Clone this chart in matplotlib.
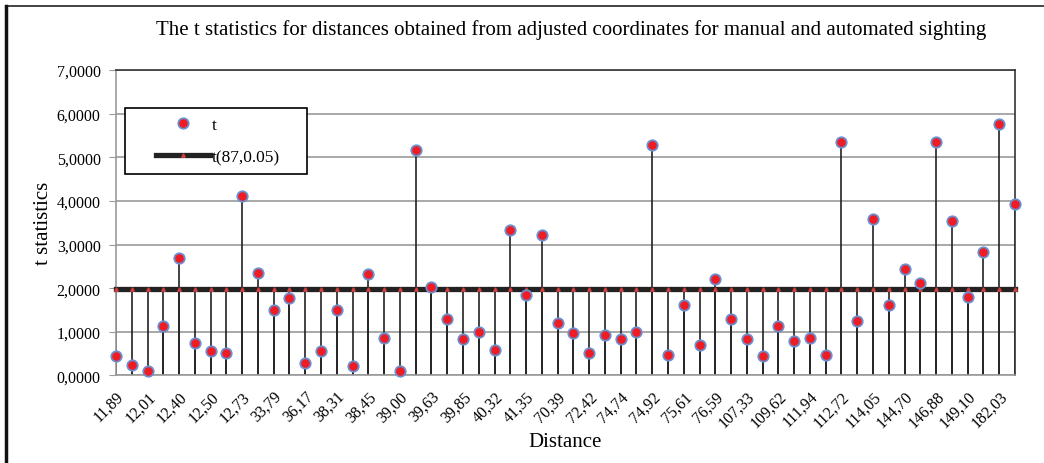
import numpy as np
import matplotlib
matplotlib.use("Agg")
import matplotlib.pyplot as plt
from matplotlib.lines import Line2D
from matplotlib.legend_handler import HandlerLine2D

plt.rcParams["font.family"] = ["Liberation Serif", "DejaVu Serif"]

# t values, one per distance
t_values = [0.44, 0.24, 0.10, 1.13, 2.69, 0.74, 0.57, 0.51, 4.11, 2.35,
            1.51, 1.78, 0.28, 0.57, 1.51, 0.21, 2.33, 0.87, 0.10, 5.17,
            2.03, 1.29, 0.83, 1.00, 0.58, 3.34, 1.85, 3.21, 1.21, 0.98,
            0.51, 0.92, 0.83, 1.00, 5.28, 0.47, 1.62, 0.71, 2.20, 1.30,
            0.83, 0.44, 1.13, 0.80, 0.87, 0.47, 5.34, 1.24, 3.58, 1.62,
            2.44, 2.11, 5.34, 3.55, 1.79, 2.84, 5.76, 3.94]
t_crit = 1.99  # t(87, 0.05)

# labels shown on the axis (every second distance)
shown_labels = ["11,89", "12,01", "12,40", "12,50", "12,73", "33,79", "36,17",
                "38,31", "38,45", "39,00", "39,63", "39,85", "40,32", "41,35",
                "70,39", "72,42", "74,74", "74,92", "75,61", "76,59", "107,33",
                "109,62", "111,94", "112,72", "114,05", "144,70", "146,88",
                "149,10", "182,03"]

n = len(t_values)
x = np.arange(n)
crit = np.full(n, t_crit)

fig = plt.figure(figsize=(10.44, 4.64), dpi=100)
ax = fig.add_axes([0.1111, 0.1886, 0.8611, 0.6584])

# drop lines for both series
ax.vlines(x, 0, crit, color="#222222", lw=1.2, zorder=2)
ax.vlines(x, 0, t_values, color="#222222", lw=1.2, zorder=2)

ax.plot(x, crit, color="#222222", lw=3.8, marker="^", ms=2.5,
        mfc="#d04040", mec="#d04040", zorder=3, label="t(87,0.05)",
        clip_on=False)
ax.plot(x, t_values, ls="none", marker="o", ms=7.5, mfc="#ee1c25",
        mec="#6b8fd0", mew=1.3, zorder=4, label="t", clip_on=False)

ax.set_xlim(0, n - 1)
ax.set_ylim(0, 7)
ax.set_yticks(range(8))
ax.set_yticklabels([f"{v:.4f}".replace(".", ",") for v in range(8)], fontsize=11.5)
ax.yaxis.grid(True, color="#9a9a9a", lw=1.2)
ax.set_axisbelow(True)

ax.set_xticks(x[::2])
ax.set_xticklabels(shown_labels, rotation=45, ha="right", va="top",
                   rotation_mode="anchor", fontsize=11.5)
ax.tick_params(axis="x", length=0, pad=9)
ax.tick_params(axis="y", length=5, color="#9a9a9a", pad=6)

for side in ["left", "bottom"]:
    ax.spines[side].set_color("#9a9a9a")
    ax.spines[side].set_linewidth(1.2)
for side in ["top", "right"]:
    ax.spines[side].set_color("#333333")
    ax.spines[side].set_linewidth(1.2)

ax.set_xlabel("Distance", fontsize=15, labelpad=1)
ax.set_ylabel("t statistics", fontsize=15, labelpad=3)
fig.text(0.547, 0.935, "The t statistics for distances obtained from adjusted "
         "coordinates for manual and automated sighting", fontsize=15,
         ha="center", va="center")

handles, labels = ax.get_legend_handles_labels()
hmap = {h: HandlerLine2D(xpad=1.27) for h in handles}
leg = ax.legend(handles[::-1], labels[::-1], loc="upper left",
                bbox_to_anchor=(0.010, 0.656, 0.2025, 0.22), mode="expand",
                borderaxespad=0, handler_map=hmap, fontsize=12.5,
                handlelength=4.37, handletextpad=0.12, labelspacing=0.95,
                borderpad=0.5, fancybox=False, framealpha=1,
                edgecolor="black")
leg.get_frame().set_linewidth(1.2)

# outer frame (top and left edges visible)
fig.add_artist(Line2D([0.0057, 1.0], [0.985, 0.985], color="#222222", lw=1.2))
fig.add_artist(Line2D([0.0057, 0.0057], [0.0, 0.985], color="#111111", lw=2.5))

fig.savefig("out.png", dpi=100)
